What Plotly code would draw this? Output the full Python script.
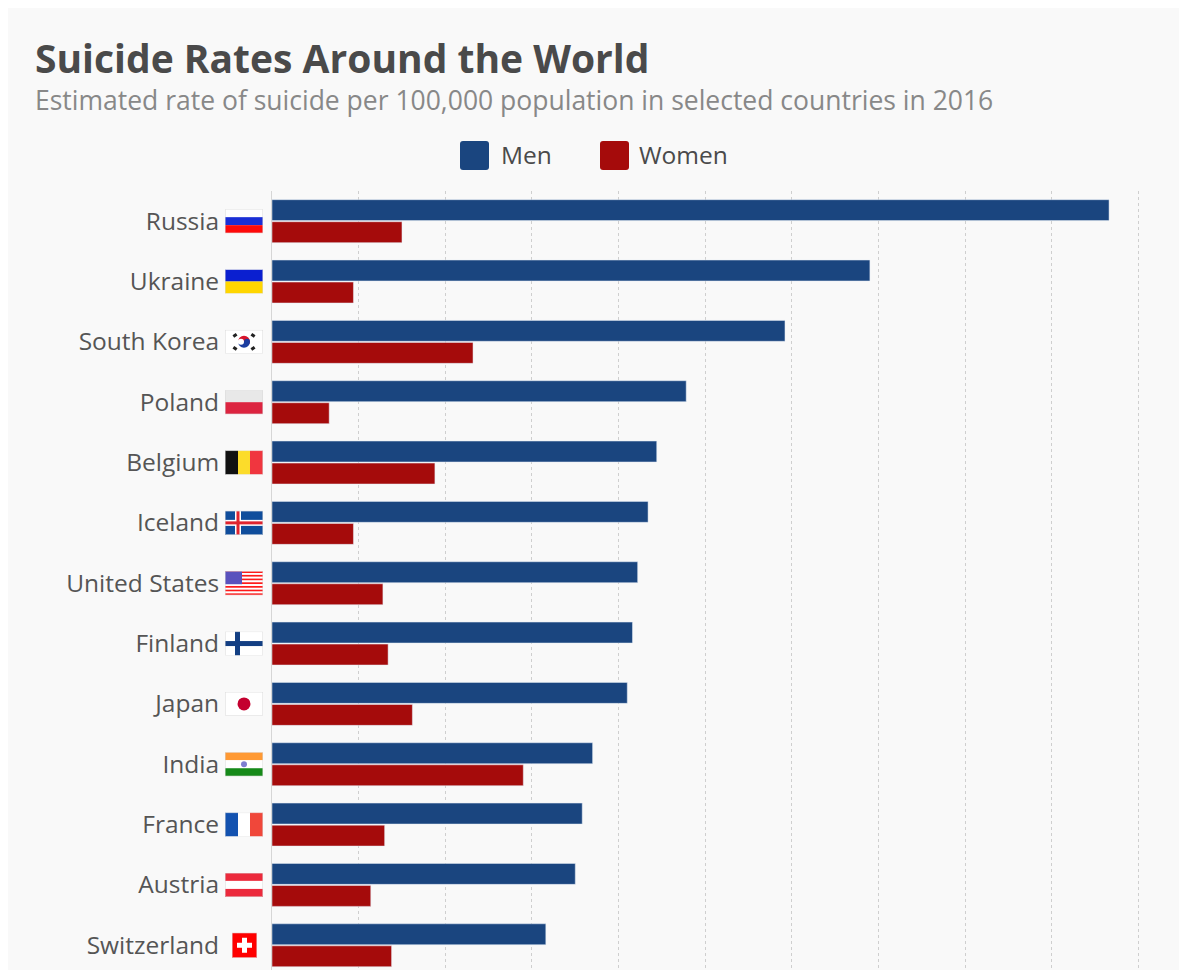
import base64
import plotly.graph_objects as go

# Values (rate per 100,000, 2016)
countries = ["Russia", "Ukraine", "South Korea", "Poland", "Belgium", "Iceland",
             "United States", "Finland", "Japan", "India", "France", "Austria", "Switzerland"]
men = [48.3, 34.5, 29.6, 23.9, 22.2, 21.7, 21.1, 20.8, 20.5, 18.5, 17.9, 17.5, 15.8]
women = [7.5, 4.7, 11.6, 3.3, 9.4, 4.7, 6.4, 6.7, 8.1, 14.5, 6.5, 5.7, 6.9]

MEN_COL = "#1a457f"
WOMEN_COL = "#a50b0b"
FONT = "Open Sans"

# page puts the figure 8px in from the top-left corner
OFF = 8
FW, FH = 1187, 970
L, T, B = 272 - OFF, 191 - OFF, 0
X_MAX = 51.47
W = round(867 / 50 * X_MAX)
R = FW - L - W
H = FH - T - B
Y_RANGE = [12.41 + OFF / 60.34, -0.5]


def px_x(p):
    # p is a screen pixel position as measured on the reference
    return (p - OFF - L) / W


def px_y(p):
    return 1 - (p - OFF - T) / H


def cat_y(i):
    # paper y of a category centre
    return 1 - (i - Y_RANGE[1]) / (Y_RANGE[0] - Y_RANGE[1])


def svg_uri(body, w=38, h=24):
    svg = (f'<svg xmlns="http://www.w3.org/2000/svg" width="{w}" height="{h}" '
           f'viewBox="0 0 {w} {h}">{body}'
           f'<rect x="0.25" y="0.25" width="{w-0.5}" height="{h-0.5}" fill="none" '
           f'stroke="#d8d8d8" stroke-width="0.5"/></svg>')
    return "data:image/svg+xml;base64," + base64.b64encode(svg.encode()).decode()


def h3(a, b, c):
    return (f'<rect width="38" height="8" fill="{a}"/><rect y="8" width="38" height="8" fill="{b}"/>'
            f'<rect y="16" width="38" height="8" fill="{c}"/>')


def v3(a, b, c):
    return (f'<rect width="13" height="24" fill="{a}"/><rect x="13" width="12" height="24" fill="{b}"/>'
            f'<rect x="25" width="13" height="24" fill="{c}"/>')


us_stripes = "".join(
    f'<rect y="{k * 24 / 13:.2f}" width="38" height="{24 / 13:.2f}" fill="{"#ff1a1a" if k % 2 == 0 else "#ffffff"}"/>'
    for k in range(13))

flags = {
    "Russia": h3("#ffffff", "#1a2fd6", "#ff0a0a"),
    "Ukraine": '<rect width="38" height="12" fill="#0a1fd0"/><rect y="12" width="38" height="12" fill="#ffd600"/>',
    "South Korea": ('<rect width="38" height="24" fill="#ffffff"/>'
                    '<path d="M13,12 A6,6 0 0 1 25,12 A3,3 0 0 1 19,12 A3,3 0 0 0 13,12 Z" fill="#d7142b"/>'
                    '<path d="M13,12 A3,3 0 0 0 19,12 A3,3 0 0 1 25,12 A6,6 0 0 1 13,12 Z" fill="#1b3da0"/>'
                    '<g fill="#222"><rect x="8" y="4" width="4" height="3" transform="rotate(-35 10 5.5)"/>'
                    '<rect x="26" y="4" width="4" height="3" transform="rotate(35 28 5.5)"/>'
                    '<rect x="8" y="17" width="4" height="3" transform="rotate(35 10 18.5)"/>'
                    '<rect x="26" y="17" width="4" height="3" transform="rotate(-35 28 18.5)"/></g>'),
    "Poland": '<rect width="38" height="12" fill="#e8e8e8"/><rect y="12" width="38" height="12" fill="#dc2440"/>',
    "Belgium": v3("#111111", "#fcdc2a", "#f0363f"),
    "Iceland": ('<rect width="38" height="24" fill="#0f4d9c"/>'
                '<rect x="10" width="6" height="24" fill="#ffffff"/><rect y="9" width="38" height="6" fill="#ffffff"/>'
                '<rect x="11.5" width="3" height="24" fill="#e0242f"/><rect y="10.5" width="38" height="3" fill="#e0242f"/>'),
    "United States": us_stripes + '<rect width="17" height="13" fill="#5a52bd"/>',
    "Finland": ('<rect width="38" height="24" fill="#ffffff"/>'
                '<rect x="10" width="5" height="24" fill="#133f83"/><rect y="9.5" width="38" height="5" fill="#133f83"/>'),
    "Japan": '<rect width="38" height="24" fill="#ffffff"/><circle cx="19" cy="12" r="6.5" fill="#c4002f"/>',
    "India": h3("#ff9933", "#ffffff", "#168a19") + '<circle cx="19" cy="12" r="3" fill="#7d7dd0"/>',
    "France": v3("#1352b0", "#ffffff", "#f0473a"),
    "Austria": h3("#ec2a3c", "#ffffff", "#ec2a3c"),
}

fig = go.Figure()
fig.add_bar(y=countries, x=men, name="Men", orientation="h", marker_color=MEN_COL)
fig.add_bar(y=countries, x=women, name="Women", orientation="h", marker_color=WOMEN_COL)

images = []
for i, c in enumerate(countries):
    cy = cat_y(i)
    if c == "Switzerland":
        src = svg_uri('<rect width="25" height="25" fill="#ff0000"/>'
                      '<rect x="10" y="5" width="5" height="15" fill="#ffffff"/>'
                      '<rect x="5" y="10" width="15" height="5" fill="#ffffff"/>', 25, 25)
        images.append(dict(source=src, xref="paper", yref="paper", x=px_x(232), y=cy,
                           sizex=25 / W, sizey=25 / H, xanchor="left", yanchor="middle",
                           sizing="stretch", layer="above"))
    else:
        images.append(dict(source=svg_uri(flags[c]), xref="paper", yref="paper", x=px_x(225), y=cy,
                           sizex=38 / W, sizey=24 / H, xanchor="left", yanchor="middle",
                           sizing="stretch", layer="above"))


def rounded(x0, y0, x1, y1, r=3):
    # rounded rectangle path in paper coords from pixel box
    a, b, c, d = px_x(x0), px_y(y0), px_x(x1), px_y(y1)
    rx, ry = r / W, r / H
    return (f"M{a + rx},{b} L{c - rx},{b} Q{c},{b} {c},{b - ry} L{c},{d + ry} Q{c},{d} {c - rx},{d} "
            f"L{a + rx},{d} Q{a},{d} {a},{d + ry} L{a},{b - ry} Q{a},{b} {a + rx},{b} Z")


shapes = [
    # card background
    dict(type="rect", xref="paper", yref="paper", x0=px_x(3), x1=px_x(1185), y0=px_y(4), y1=-0.05,
         fillcolor="#f9f9f9", line=dict(color="#e2e2e2", width=1.5), layer="below"),
    dict(type="path", xref="paper", yref="paper", path=rounded(460, 141, 489, 170),
         fillcolor=MEN_COL, line=dict(width=0)),
    dict(type="path", xref="paper", yref="paper", path=rounded(600, 141, 629, 170),
         fillcolor=WOMEN_COL, line=dict(width=0)),
]

annotations = [
    dict(text="<b>Suicide Rates Around the World</b>", xref="paper", yref="paper",
         x=px_x(33), y=px_y(58), xanchor="left", yanchor="middle", showarrow=False,
         font=dict(family=FONT, size=39, color="#4a4a4a")),
    dict(text="Estimated rate of suicide per 100,000 population in selected countries in 2016",
         xref="paper", yref="paper", x=px_x(33), y=px_y(100), xanchor="left", yanchor="middle",
         showarrow=False, font=dict(family=FONT, size=26.5, color="#888888")),
    dict(text="Men", xref="paper", yref="paper", x=px_x(499), y=px_y(155), xanchor="left",
         yanchor="middle", showarrow=False, font=dict(family=FONT, size=24.5, color="#4a4a4a")),
    dict(text="Women", xref="paper", yref="paper", x=px_x(637), y=px_y(155), xanchor="left",
         yanchor="middle", showarrow=False, font=dict(family=FONT, size=24.5, color="#4a4a4a")),
]

fig.update_layout(
    width=FW, height=FH,
    margin=dict(l=L, r=R, t=T, b=B, pad=0),
    barmode="group", bargap=0.27, bargroupgap=0.05,
    paper_bgcolor="#ffffff", plot_bgcolor="rgba(0,0,0,0)",
    showlegend=False,
    shapes=shapes, images=images, annotations=annotations,
    font=dict(family=FONT, color="#555555"),
)
fig.update_xaxes(range=[0, X_MAX], dtick=5, showgrid=True, gridcolor="#cfcfcf", griddash="dot",
                 gridwidth=1, zeroline=False, showticklabels=False, fixedrange=True)
fig.update_yaxes(range=Y_RANGE, showline=True, linecolor="#d6d6d6", linewidth=1,
                 ticks="outside", ticklen=47, tickcolor="rgba(0,0,0,0)",
                 tickfont=dict(family=FONT, size=24.5, color="#555555"), fixedrange=True)

fig.write_html("out.html")
